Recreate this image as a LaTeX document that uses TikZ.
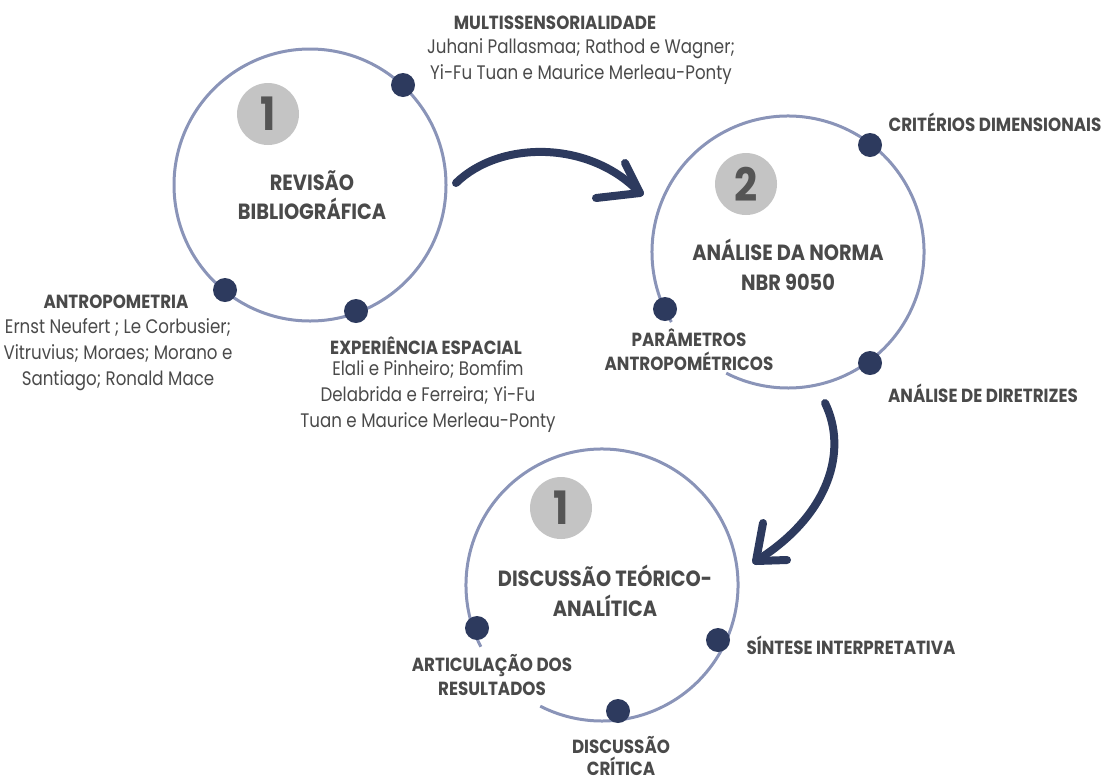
\documentclass[tikz,border=0pt]{standalone}
\usepackage{fontspec}
\usetikzlibrary{calc}
\setmainfont{Poppins}
\newfontfamily\hd{Poppins}[FakeStretch=0.88]
\newfontfamily\bd{Poppins}[FakeStretch=0.85]
\definecolor{ring}{HTML}{8A94B8}
\definecolor{navy}{HTML}{2D3A5E}
\definecolor{badge}{HTML}{C4C4C4}
\definecolor{digit}{HTML}{555555}
\definecolor{txt}{HTML}{4A4A4A}
\tikzset{
  ringline/.style={draw=ring, line width=3pt},
  dotnode/.style={circle, fill=navy, inner sep=0pt, minimum size=24pt},
  badgenode/.style={circle, fill=badge, inner sep=0pt, minimum size=62pt, text=digit, font=\hd\bfseries\fontsize{46}{46}\selectfont},
  titlenode/.style={align=center, text=txt, font=\hd\bfseries\fontsize{22}{29.5}\selectfont, inner sep=0pt},
  headnode/.style={align=center, text=txt, font=\hd\bfseries\fontsize{19}{24}\selectfont, inner sep=0pt},
  bodynode/.style={align=center, text=txt, font=\bd\fontsize{19.6}{26}\selectfont, inner sep=0pt},
  arrowline/.style={draw=navy, line width=8pt, line cap=round, line join=round}
}
\begin{document}
\begin{tikzpicture}[x=1pt,y=-1pt]
\useasboundingbox (0,0) rectangle (1107,780);
% circle 1
\coordinate (c1) at (310,185);
\draw[ringline] (c1) circle[radius=136];
\node[badgenode] (b1) at (268,114) {1};
\node[titlenode] (t1) at (312,195) {REVISÃO\\BIBLIOGRÁFICA};
\node[dotnode] (d11) at (403,85) {};
\node[dotnode] (d12) at (225,290) {};
\node[dotnode] (d13) at (356,311) {};
% circle 2
\coordinate (c2) at (788,252);
\draw[ringline] ($(c2)+(149:136)$) arc[start angle=149, end angle=477, radius=136];
\node[badgenode] (b2) at (746,184) {2};
\node[titlenode] (t2) at (788,265) {ANÁLISE DA NORMA\\NBR 9050};
\node[dotnode] (d21) at (870,145) {};
\node[dotnode] (d22) at (665,309) {};
\node[dotnode] (d23) at (870,363) {};
% circle 3
\coordinate (c3) at (602,585);
\draw[ringline] ($(c3)+(153:136)$) arc[start angle=153, end angle=477, radius=136];
\node[badgenode] (b3) at (561,508) {1};
\node[titlenode] (t3) at (605,591) {DISCUSSÃO TEÓRICO-\\ANALÍTICA};
\node[dotnode] (d31) at (477,628) {};
\node[dotnode] (d32) at (718,640) {};
\node[dotnode] (d33) at (618,711) {};
% labels circle 1
\node[headnode] (h11) at (555,23) {MULTISSENSORIALIDADE};
\node[bodynode] (p11) at (581,62) {Juhani Pallasmaa; Rathod e Wagner;\\Yi-Fu Tuan e Maurice Merleau-Ponty};
\node[headnode] (h12) at (116,302) {ANTROPOMETRIA};
\node[bodynode] (p12) at (118,355) {Ernst Neufert ; Le Corbusier;\\Vitruvius; Moraes; Morano e\\Santiago; Ronald Mace};
\node[headnode] (h13) at (426,346) {EXPERIÊNCIA ESPACIAL};
\node[bodynode] (p13) at (428,397) {Elali e Pinheiro; Bomfim\\Delabrida e Ferreira; Yi-Fu\\Tuan e Maurice Merleau-Ponty};
% labels circle 2
\node[headnode] (h21) at (995,122) {CRITÉRIOS DIMENSIONAIS};
\node[headnode] (h22) at (689,350) {PARÂMETROS\\ANTROPOMÉTRICOS};
\node[headnode] (h23) at (983,393) {ANÁLISE DE DIRETRIZES};
% labels circle 3
\node[headnode] (h31) at (851,645) {SÍNTESE INTERPRETATIVA};
\node[headnode] (h32) at (492,675) {ARTICULAÇÃO DOS\\RESULTADOS};
\node[headnode, font=\hd\bfseries\fontsize{19}{21.5}\selectfont] (h33) at (621,756) {DISCUSSÃO\\CRÍTICA};
% arrows
\coordinate (a1s) at (456,183);
\coordinate (a1e) at (640,193);
\coordinate (a1b1) at (625,163);
\coordinate (a1b2) at (596,198);
\draw[arrowline] (a1s) .. controls (500,140) and (590,140) .. (a1e);
\draw[arrowline] (a1b1) -- (a1e) -- (a1b2);
\coordinate (a2s) at (825,403);
\coordinate (a2e) at (756,561);
\coordinate (a2b1) at (763,523);
\coordinate (a2b2) at (787,560);
\draw[arrowline] (a2s) .. controls (848,450) and (830,515) .. (a2e);
\draw[arrowline] (a2b1) -- (a2e) -- (a2b2);
\end{tikzpicture}
\end{document}
